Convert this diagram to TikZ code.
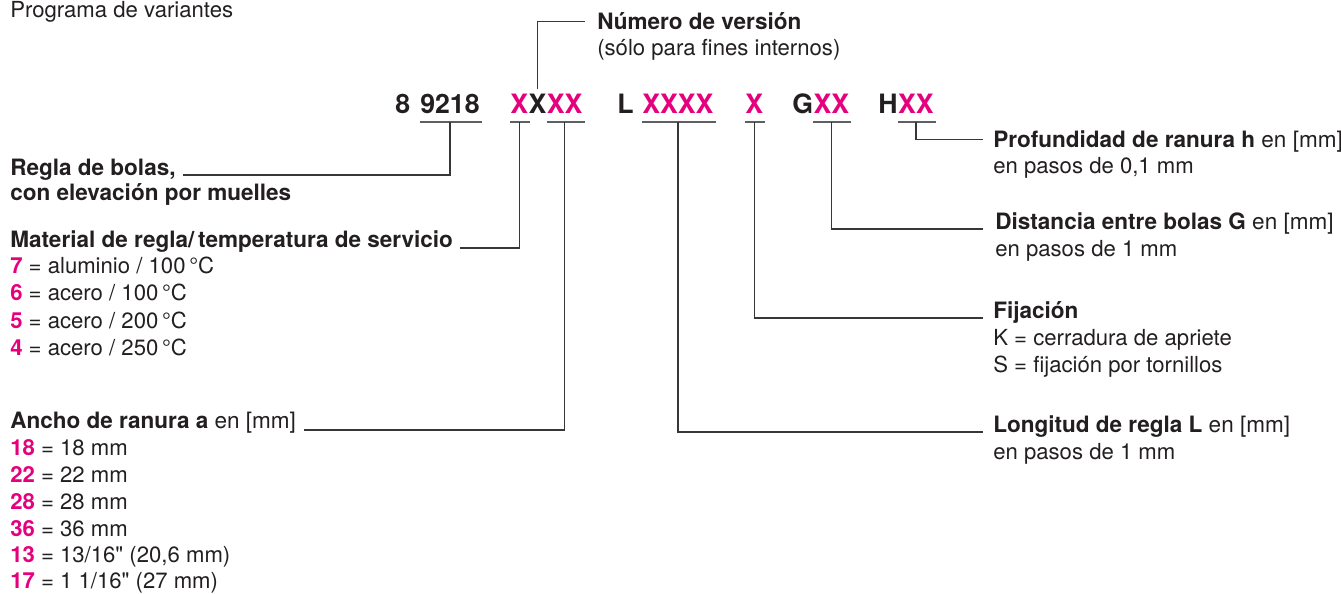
\documentclass[tikz,border=0pt]{standalone}
\usepackage{fontspec}
\setmainfont{TeX Gyre Heros}
\definecolor{pinkcode}{RGB}{229,0,126}
\definecolor{darktext}{RGB}{35,31,32}
\definecolor{leadgray}{RGB}{55,55,55}
\definecolor{ulgray}{RGB}{95,95,95}
\newcommand{\pnum}[1]{\textcolor{pinkcode}{\textbf{#1}}}
\tikzset{
  codetxt/.style={anchor=base west, inner sep=0pt, text height=13.5pt, text depth=0pt, font=\fontsize{20}{24}\selectfont\bfseries, text=darktext},
  codepink/.style={codetxt, text=pinkcode},
  bodytxt/.style={anchor=base west, inner sep=0pt, font=\fontsize{16.6}{20}\selectfont, text=darktext},
  titletxt/.style={bodytxt, font=\fontsize{16.9}{20}\selectfont\bfseries, text height=11.25pt, text depth=0pt},
  uline/.style={draw=ulgray, line width=1.5pt},
  leader/.style={draw=leadgray, line width=1pt},
}
\begin{document}
\begin{tikzpicture}[x=0.75pt,y=0.75pt,yscale=-1,xscale=1]
\path[use as bounding box] (0,0) rectangle (1341,593);

% Text Node
\node[bodytxt] (prog) at (10,17) {Programa de variantes};

% Text Node
\node[codetxt] (c8) at (395,113) {8};
\node[codetxt] (c9218) at (420,113) {9218};
\node[codepink] (cmat) at (510,113) {X};
\node[codetxt] (cver) at (cmat.base east) {X};
\node[codepink] (cancho) at (cver.base east) {XX};
\node[codetxt] (cL) at (617,113) {L};
\node[codepink] (clong) at (642,113) {XXXX};
\node[codepink] (cfij) at (745,113) {X};
\node[codetxt] (cG) at (792,113) {G};
\node[codepink] (cdist) at (cG.base east) {XX};
\node[codetxt] (cH) at (878,113) {H};
\node[codepink] (cprof) at (cH.base east) {XX};

%Straight Lines
\foreach \n in {c9218,cmat,cancho,clong,cfij,cdist,cprof}
  \draw[uline] ([yshift=6.75pt]\n.base west) -- ([yshift=6.75pt,xshift=1.5pt]\n.base east);

% Text Node
\node[titletxt] (numero) at (597,29) {Número de versión};
\node[bodytxt] (numero2) at (597,55) {(sólo para fines internos)};

% Text Node
\node[titletxt] (regla) at (10,175) {Regla de bolas,};
\node[titletxt] (regla2) at (10,200) {con elevación por muelles};

% Text Node
\node[titletxt] (mat) at (10,247) {Material de regla/\,temperatura de servicio};
\node[bodytxt] (mat7) at (10,273) {\pnum{7} = aluminio / 100\,°C};
\node[bodytxt] (mat6) at (10,300) {\pnum{6} = acero / 100\,°C};
\node[bodytxt] (mat5) at (10,328) {\pnum{5} = acero / 200\,°C};
\node[bodytxt] (mat4) at (10,355) {\pnum{4} = acero / 250\,°C};

% Text Node
\node[titletxt] (ancho) at (10,428) {Ancho de ranura a {\mdseries en [mm]}};
\node[bodytxt] (ancho18) at (10,455) {\pnum{18} = 18 mm};
\node[bodytxt] (ancho22) at (10,482) {\pnum{22} = 22 mm};
\node[bodytxt] (ancho28) at (10,509) {\pnum{28} = 28 mm};
\node[bodytxt] (ancho36) at (10,536) {\pnum{36} = 36 mm};
\node[bodytxt] (ancho13) at (10,562) {\pnum{13} = 13/16\textquotedbl{} (20,6 mm)};
\node[bodytxt] (ancho17) at (10,588) {\pnum{17} = 1 1/16\textquotedbl{} (27 mm)};

% Text Node
\node[titletxt] (prof) at (993,147) {Profundidad de ranura h {\mdseries en [mm]}};
\node[bodytxt] (prof2) at (993,173) {en pasos de 0,1 mm};
\node[titletxt] (dist) at (995,229) {Distancia entre bolas G {\mdseries en [mm]}};
\node[bodytxt] (dist2) at (995,256) {en pasos de 1 mm};
\node[titletxt] (fija) at (993,318) {Fijación};
\node[bodytxt] (fija2) at (993,345) {K = cerradura de apriete};
\node[bodytxt] (fija3) at (993,372) {S = fijación por tornillos};
\node[titletxt] (longi) at (993,432) {Longitud de regla L {\mdseries en [mm]}};
\node[bodytxt] (longi2) at (993,459) {en pasos de 1 mm};

%Straight Lines
\draw[leader] ([yshift=-4.5pt]cver.north) |- ([xshift=-9pt]numero.west);
\draw[leader] ([yshift=6.75pt]c9218.base) |- ([xshift=5pt]regla.base east);
\draw[leader] ([yshift=6.75pt]cmat.base) |- ([xshift=5pt,yshift=0.75pt]mat.base east);
\draw[leader] ([yshift=6.75pt]cancho.base) |- ([xshift=6pt,yshift=1.5pt]ancho.base east);
\draw[leader] ([yshift=6.75pt]clong.base) |- ([xshift=-7.5pt]longi.base west);
\draw[leader] ([yshift=6.75pt]cfij.base) |- ([xshift=-7.5pt]fija.base west);
\draw[leader] ([yshift=6.75pt]cdist.base) |- ([xshift=-9pt]dist.base west);
\draw[leader] ([yshift=6.75pt]cprof.base) |- ([xshift=-7.5pt]prof.west);

\end{tikzpicture}
\end{document}
